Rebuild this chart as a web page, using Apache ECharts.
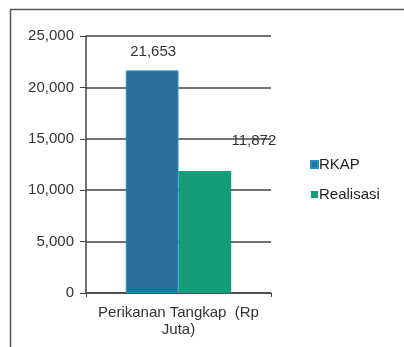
<!DOCTYPE html>
<html><head><meta charset="utf-8">
<script src="https://cdn.jsdelivr.net/npm/echarts@6/dist/echarts.min.js"></script>
<style>html,body{margin:0;padding:0;background:#fff}#c{width:404px;height:347px}</style>
</head><body><div id="c"></div>
<script>
const categories = ['Perikanan Tangkap  (Rp\nJuta)'];
const seriesNames = ['RKAP', 'Realisasi'];
const rkap = [21653];
const realisasi = [11872];
const yTicks = [0, 5000, 10000, 15000, 20000, 25000];

const chart = echarts.init(document.getElementById('c'), null, {renderer: 'canvas'});
const font = 'Liberation Sans, Arial, sans-serif';
const fmt = v => v.toLocaleString('en-US');
chart.setOption({
  animation: false,
  textStyle: {fontFamily: font},
  graphic: [{
    type: 'rect', shape: {x: 10.5, y: 9.5, width: 420, height: 360},
    style: {fill: 'none', stroke: '#555', lineWidth: 1.5}
  }],
  grid: {left: 86, top: 36, width: 185, height: 257},
  legend: {
    orient: 'vertical', left: 305, top: 152, itemGap: 15,
    itemWidth: 7, itemHeight: 7, icon: 'rect',
    textStyle: {fontSize: 15, color: '#222', fontFamily: font, padding: [0,0,0,-4]},
    data: seriesNames
  },
  xAxis: {
    type: 'category', data: categories,
    axisLine: {lineStyle: {color: '#444', width: 1.5}},
    axisTick: {show: true, length: 4, lineStyle: {color: '#444'}, alignWithLabel: false},
    axisLabel: {fontSize: 15, color: '#333', lineHeight: 17, margin: 11, fontFamily: font}
  },
  yAxis: {
    type: 'value', min: yTicks[0], max: yTicks[yTicks.length-1], interval: 5000,
    axisLine: {show: true, lineStyle: {color: '#444', width: 1.5}},
    axisTick: {show: true, length: 6, lineStyle: {color: '#444'}},
    splitLine: {lineStyle: {color: '#444', width: 1.5}},
    axisLabel: {fontSize: 15, color: '#333', margin: 12, formatter: v => fmt(v), fontFamily: font}
  },
  series: [
    {name: seriesNames[0], type: 'bar', data: rkap, barGap: '0%', barCategoryGap: '43%',
     itemStyle: {color: '#2b6e9c', borderColor: '#1f8fc8', borderWidth: 1},
     label: {show: true, position: 'top', offset: [1, -6], fontSize: 15, color: '#333', formatter: p => fmt(p.value), fontFamily: font}},
    {name: seriesNames[1], type: 'bar', data: realisasi,
     itemStyle: {color: '#139e79'},
     label: {show: true, position: 'top', offset: [49, -18], fontSize: 15, color: '#333', formatter: p => fmt(p.value), fontFamily: font}}
  ]
});
</script></body></html>
